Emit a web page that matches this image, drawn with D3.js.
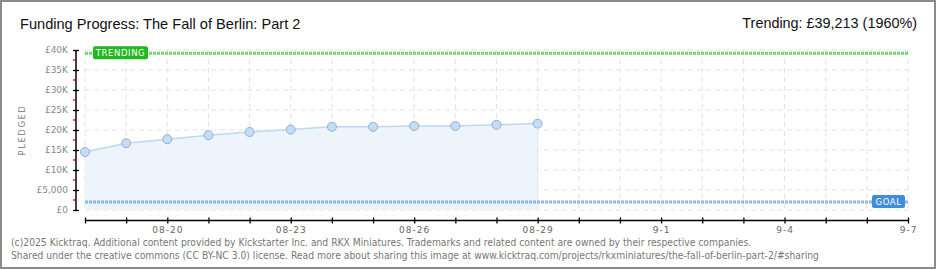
<!DOCTYPE html>
<html>
<head>
<meta charset="utf-8">
<script src="https://cdn.jsdelivr.net/npm/d3@7"></script>
<style>
  body { margin: 0; background: #fff; }
  svg { display: block; }
  .ytick text { font-family: "DejaVu Sans", sans-serif; font-size: 9px; fill: #888; }
  .xtick text { font-family: "DejaVu Sans", sans-serif; font-size: 9px; fill: #666; letter-spacing: 1px; }
</style>
</head>
<body>
<div class="chart"></div>
<script>
// data
const dates = ["2025-08-18","2025-08-19","2025-08-20","2025-08-21","2025-08-22","2025-08-23",
               "2025-08-24","2025-08-25","2025-08-26","2025-08-27","2025-08-28","2025-08-29"];
const pledged = [14500, 16700, 17700, 18700, 19500, 20100, 20800, 20800, 21000, 21000, 21300, 21600];
const goal = 2000;
const trending = 39213;
const yTicks = [0, 5000, 10000, 15000, 20000, 25000, 30000, 35000, 40000];
const yTickLabels = ["£0", "£5,000", "£10K", "£15K", "£20K", "£25K", "£30K", "£35K", "£40K"];
const xLabelDates = ["2025-08-20","2025-08-23","2025-08-26","2025-08-29","2025-09-01","2025-09-04","2025-09-07"];
const xLabels = ["08-20", "08-23", "08-26", "08-29", "9-1", "9-4", "9-7"];
const startDate = "2025-08-18", endDate = "2025-09-07";

(function(){
    const svgWidth = 940, svgHeight = 270;
    const parse = d3.timeParse("%Y-%m-%d");

    const svg = d3.select(".chart").append("svg")
        .attr("width", svgWidth)
        .attr("height", svgHeight);

    // outer frame
    svg.append("rect")
        .attr("x", 1).attr("y", 1)
        .attr("width", 934).attr("height", 267)
        .attr("fill", "#fff").attr("stroke", "#8a8a8a").attr("stroke-width", 2);

    const x = d3.scaleTime()
        .domain([parse(startDate), parse(endDate)])
        .range([85, 908]);
    const y = d3.scaleLinear()
        .domain([0, 40000])
        .range([210, 50]);

    const days = d3.timeDay.range(parse(startDate), d3.timeDay.offset(parse(endDate), 1));

    // grid
    const grid = svg.append("g");
    grid.selectAll(".vg").data(days).enter().append("line")
        .attr("x1", d => x(d)).attr("x2", d => x(d))
        .attr("y1", y(40000)).attr("y2", y(0))
        .attr("stroke", "#e2e2e2").attr("stroke-dasharray", "5,4");
    grid.selectAll(".hg").data(yTicks).enter().append("line")
        .attr("x1", x(parse(startDate))).attr("x2", x(parse(endDate)))
        .attr("y1", d => y(d)).attr("y2", d => y(d))
        .attr("stroke", "#e2e2e2").attr("stroke-dasharray", "5,4");

    const data = dates.map((d, i) => ({date: parse(d), value: pledged[i]}));

    // area + line
    svg.append("path")
        .datum(data)
        .attr("fill", "#eef4fc")
        .attr("d", d3.area().x(d => x(d.date)).y0(y(0)).y1(d => y(d.value)));
    svg.append("line")
        .attr("x1", x(data[data.length-1].date)).attr("x2", x(data[data.length-1].date))
        .attr("y1", y(data[data.length-1].value)).attr("y2", y(0))
        .attr("stroke", "#dbe8f7");
    svg.append("path")
        .datum(data)
        .attr("fill", "none")
        .attr("stroke", "#bcd8f4")
        .attr("stroke-width", 1.5)
        .attr("d", d3.line().x(d => x(d.date)).y(d => y(d.value)));

    // goal and trending lines
    function refLine(val, outer, inner) {
        const g = svg.append("g");
        g.append("line")
            .attr("x1", 85).attr("x2", 908)
            .attr("y1", y(val)).attr("y2", y(val))
            .attr("stroke", outer).attr("stroke-width", 3)
            .attr("stroke-dasharray", "3,1");
        g.append("line")
            .attr("x1", 86).attr("x2", 908)
            .attr("y1", y(val)).attr("y2", y(val))
            .attr("stroke", inner).attr("stroke-width", 1)
            .attr("stroke-dasharray", "1,3");
    }
    refLine(goal, "#80b0e4", "#d2e4f8");
    refLine(trending, "#66d066", "#c0f0c0");

    // points
    svg.selectAll("circle").data(data).enter().append("circle")
        .attr("cx", d => x(d.date)).attr("cy", d => y(d.value))
        .attr("r", 4.5)
        .attr("fill", "#c4dcf6")
        .attr("stroke", "#95afcc")
        .attr("stroke-width", 1);

    // labels on ref lines
    function tag(xl, val, w, text, fill) {
        svg.append("rect")
            .attr("x", xl).attr("y", y(val) - 7)
            .attr("width", w).attr("height", 13)
            .attr("rx", 2)
            .attr("fill", fill);
        svg.append("text")
            .attr("x", xl + w / 2).attr("y", y(val) + 3)
            .attr("text-anchor", "middle")
            .attr("font-family", "DejaVu Sans, sans-serif")
            .attr("font-size", 8.5)
            .attr("letter-spacing", 0.6)
            .attr("fill", "#fff")
            .text(text);
    }
    tag(93, trending, 55, "TRENDING", "#1fb81f");
    tag(872, goal, 33, "GOAL", "#3f8ddb");

    // y axis
    const yAxis = d3.axisLeft(y)
        .tickValues(yTicks)
        .tickFormat((d, i) => yTickLabels[i])
        .tickSize(3)
        .tickPadding(6);
    const yg = svg.append("g")
        .attr("class", "ytick")
        .attr("transform", "translate(76,0)")
        .call(yAxis);
    yg.select(".domain").attr("stroke", "#000").attr("stroke-width", 1.5)
        .attr("d", `M0,${y(40000)}V${y(0) + 1}`);
    yg.selectAll(".tick line").attr("x1", -3).attr("x2", 3).attr("stroke", "#000").attr("stroke-width", 1.3);
    yg.selectAll(".tick text").attr("x", -8);
    yg.selectAll(".minor").data(yTicks.slice(1).map(d => d - 2500)).enter().append("line")
        .attr("x1", -3).attr("x2", 0)
        .attr("y1", d => y(d)).attr("y2", d => y(d))
        .attr("stroke", "#e00").attr("stroke-width", 1.3);

    // x axis
    const labelMap = new Map(xLabelDates.map((d, i) => [d, xLabels[i]]));
    const fmt = d3.timeFormat("%Y-%m-%d");
    const xAxis = d3.axisBottom(x)
        .tickValues(days)
        .tickFormat(d => labelMap.get(fmt(d)) || "")
        .tickSize(3)
        .tickPadding(3);
    const xg = svg.append("g")
        .attr("class", "xtick")
        .attr("transform", "translate(0,220.5)")
        .call(xAxis);
    xg.select(".domain").attr("stroke", "#000").attr("stroke-width", 1.5)
        .attr("d", `M85,0H908`);
    xg.selectAll(".tick line").attr("y1", -3).attr("y2", 3).attr("stroke", "#000").attr("stroke-width", 1.3);

    // y axis title
    svg.append("text")
        .attr("transform", "translate(25,130) rotate(-90)")
        .attr("text-anchor", "middle")
        .attr("font-family", "DejaVu Sans, sans-serif")
        .attr("font-size", 8.5)
        .attr("letter-spacing", 1.5)
        .attr("fill", "#888")
        .text("PLEDGED");

    // titles
    svg.append("text")
        .attr("x", 20).attr("y", 29)
        .attr("font-family", "Liberation Sans Narrow, Arial Narrow, sans-serif")
        .attr("font-size", 14.6)
        .attr("fill", "#111")
        .text("Funding Progress: The Fall of Berlin: Part 2");
    svg.append("text")
        .attr("x", 917).attr("y", 28)
        .attr("text-anchor", "end")
        .attr("font-family", "Liberation Sans Narrow, Arial Narrow, sans-serif")
        .attr("font-size", 14.4)
        .attr("fill", "#111")
        .text("Trending: £39,213 (1960%)");

    // footer
    const foot = svg.append("g")
        .attr("font-family", "DejaVu Sans Condensed, DejaVu Sans, sans-serif")
        .attr("font-stretch", "condensed")
        .attr("font-size", 10.25)
        .attr("fill", "#777");
    foot.append("text").attr("x", 11).attr("y", 246)
        .text("(c)2025 Kicktraq. Additional content provided by Kickstarter Inc. and RKX Miniatures. Trademarks and related content are owned by their respective companies.");
    foot.append("text").attr("x", 11).attr("y", 259)
        .text("Shared under the creative commons (CC BY-NC 3.0) license. Read more about sharing this image at www.kicktraq.com/projects/rkxminiatures/the-fall-of-berlin-part-2/#sharing");
})();
</script>
</body>
</html>
